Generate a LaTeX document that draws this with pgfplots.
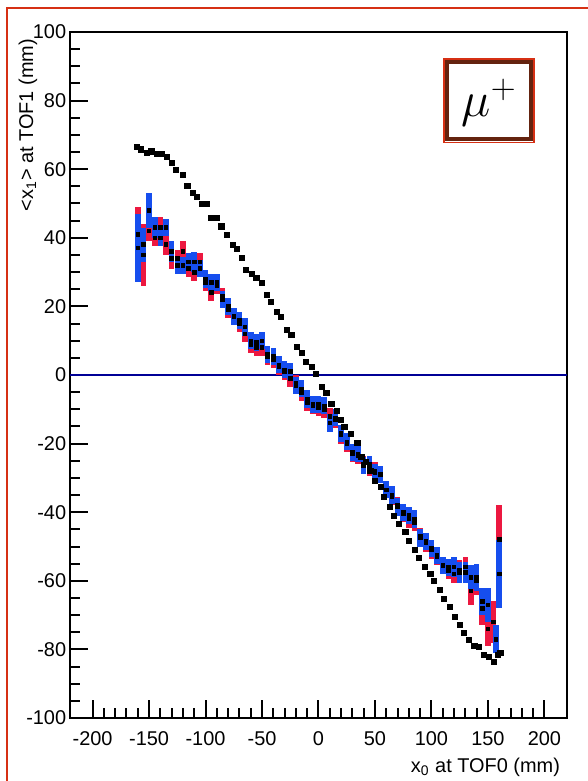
\documentclass[border=0pt]{standalone}
\usepackage{fontspec}
\setmainfont{Liberation Sans}
\usepackage{pgfplots}
\usepackage{pgfplotstable}
\pgfplotsset{compat=1.18}

\definecolor{rootred}{RGB}{236,24,64}
\definecolor{rootblue}{RGB}{22,78,238}
\definecolor{navyline}{RGB}{0,0,150}
\definecolor{framered}{RGB}{214,48,20}
\definecolor{boxbrown}{RGB}{100,35,15}

% data set 1 (red)
\pgfplotstableread{
x y e
-160 41 8
-155 35 9
-150 42 3
-145 40 2.5
-140 43 3
-135 38 3
-130 34 3
-125 34 2.5
-120 36 3
-115 31 2.5
-110 30 2.5
-105 33 2.5
-100 27 2.5
-95 24 2.5
-90 26 2.5
-85 23 2.5
-80 19 2.5
-75 17 2.5
-70 15 2.5
-65 12 2.5
-60 9 2.5
-55 8 2.5
-50 8 2.5
-45 5.5 2.5
-40 4.5 2.5
-35 2.5 2.5
-30 1 2.5
-25 -1 2.5
-20 -2.5 2.5
-15 -5 2.5
-10 -8 2.5
-5 -9 2.5
0 -9.5 2.5
5 -10 2.5
10 -12 2.5
15 -13 2.5
20 -17.5 2.5
25 -20 2.5
30 -23 2.5
35 -23.5 2.5
40 -26 2.5
45 -27 2.5
50 -28 2.5
55 -29 2.5
60 -33.5 2.5
65 -35.5 2.5
70 -38 2.5
75 -40.5 2.5
80 -42 2.5
85 -43 2.5
90 -47 2.5
95 -49 2.5
100 -51 2.5
105 -53 2.5
110 -55.5 2.5
115 -57 2.5
120 -58 2.5
125 -57 3
130 -56 3
135 -63 4
140 -60 4
145 -68 5
150 -74 5
155 -72 6
160 -48 10
}\redtab

% data set 2 (blue)
\pgfplotstableread{
x y e
-160 37 10
-155 38 5
-150 48 5
-145 43 3
-140 40 2.5
-135 43 2.5
-130 36 3
-125 32 2.5
-120 32 2.5
-115 33 2.5
-110 33 3
-105 31 2.5
-100 28 2.5
-95 27 2.5
-90 27 2.5
-85 22 2.5
-80 20 2.5
-75 17 2.5
-70 16 2.5
-65 14 2.5
-60 10 2.5
-55 9.5 2.5
-50 10 2.5
-45 6 2.5
-40 5.5 2.5
-35 3 2.5
-30 1.5 2.5
-25 1 2.5
-20 -3 2.5
-15 -4 2.5
-10 -7 2.5
-5 -8.5 2.5
0 -8.5 2.5
5 -9 2.5
10 -14 2.5
15 -12.5 2.5
20 -17 2.5
25 -19.5 2.5
30 -22.5 2.5
35 -23 2.5
40 -26.5 2.5
45 -26 2.5
50 -28.5 2.5
55 -29 2.5
60 -33.5 2.5
65 -35 2.5
70 -38.5 2.5
75 -40 2.5
80 -41 2.5
85 -42 2.5
90 -47.5 2.5
95 -48.5 2.5
100 -50.5 2.5
105 -52.5 2.5
110 -55.5 2.5
115 -56 2.5
120 -56 3
125 -57.5 3
130 -57.5 3
135 -59 3.5
140 -59 4
145 -66 4
150 -67 5
157 -77 4
160 -58 10
}\bluetab

\begin{document}
\begin{tikzpicture}
\begin{axis}[
  name=ax, at={(0,0)}, anchor=south west,
  scale only axis, width=248.5bp, height=343bp,
  xmin=-220, xmax=220, ymin=-100, ymax=100,
  xtick={-200,-150,...,200}, ytick={-100,-80,...,100},
  minor x tick num=4, minor y tick num=3,
  tick align=inside, xtick pos=bottom, ytick pos=left,
  major tick length=9bp, minor tick length=5bp,
  tick style={black, line width=1bp},
  axis line style={line width=1.2bp},
  /pgf/number format/assume math mode=true,
  ticklabel style={font=\fontsize{10}{12}\selectfont},
  xticklabel style={yshift=-3.5bp},
  yticklabel style={xshift=1.6bp},
  xlabel={x\textsubscript{0} at TOF0 (mm)},
  ylabel={\textless x\textsubscript{1}\textgreater{} at TOF1 (mm)},
  label style={font=\fontsize{10}{12}\selectfont},
  xlabel style={at={([yshift=-24.5bp]rel axis cs:1,0)}, anchor=east},
  ylabel style={at={([xshift=-21bp]rel axis cs:0,1)}, anchor=east},
]
\addplot[navyline, line width=1.3bp] coordinates {(-220,0)(220,0)};

\addplot[only marks, mark=square*, mark size=0.9bp, black,
  error bars/.cd, y dir=both, y explicit,
  error bar style={rootred, line width=2.8bp}, error mark=none]
  table[x=x, y=y, y error=e] {\redtab};

\addplot[only marks, mark=square*, mark size=0.9bp, black,
  error bars/.cd, y dir=both, y explicit,
  error bar style={rootblue, line width=2.8bp}, error mark=none]
  table[x=x, y=y, y error=e] {\bluetab};

% data set 0 (black)
\addplot[only marks, mark=square*, mark size=1.3bp, black] coordinates {
(-161,66.5)(-157,65.8)(-152,64.7)(-148,65.2)(-143,64.4)(-139,64.4)(-134,63.6)
(-130,61.8)(-126,59.8)(-120,58.3)(-116,55.1)(-111,53.1)(-108,51.9)(-103,49.9)
(-99,49.9)(-95,45.8)(-90,45.8)(-86,43.3)(-81,40.8)(-76,37.9)(-72,36.7)
(-68,34.1)(-64,30.6)(-59,29.4)(-55,28.2)(-50,26.8)(-46,23.3)(-42,21.3)
(-37,18.4)(-33,16.9)(-28,13.1)(-24,11.7)(-19,8.2)(-15,6.4)(-11,3.8)
(-6,2.3)(-2,0.3)(3,-3.5)(7,-5.2)(11.5,-8.5)(16,-10.5)(20,-13)(23,-15.2)
(29,-17.2)(34.5,-19.8)(38,-23.9)(42,-25.4)(46,-28)(50,-30.9)(55,-32.7)
(58,-35.6)(63,-38.5)(67,-41)(71.5,-43.4)(77,-45.8)(80,-48.4)(85,-51)
(89,-53.4)(94.5,-56)(99,-58)(102,-60)(107.5,-62.7)(111,-65.3)(116.5,-67.6)
(121,-70.6)(125.5,-72.9)(129,-75.2)(133,-77.3)(138,-79)(142,-79.3)
(146.5,-81.6)(151,-82.2)(155.5,-83.7)(159,-81.6)(161,-81)
};

% particle label box
\draw[framered, line width=0.8bp] (axis cs:111.1,92.2) rectangle (axis cs:191.0,67.8);
\draw[boxbrown, line width=2bp] (axis cs:113.6,91.3) rectangle (axis cs:188.5,68.7);
\node at (axis cs:151,79.5) {\fontsize{27}{27}\selectfont $\mu^{+}$};
\end{axis}

% canvas frame
\draw[framered, line width=1bp] (-31.35bp,-40bp) -- (-31.35bp,355bp) -- (270bp,355bp);
\pgfresetboundingbox
\path[use as bounding box] (-35bp,-31.5bp) rectangle (259bp,359bp);
\end{tikzpicture}
\end{document}
